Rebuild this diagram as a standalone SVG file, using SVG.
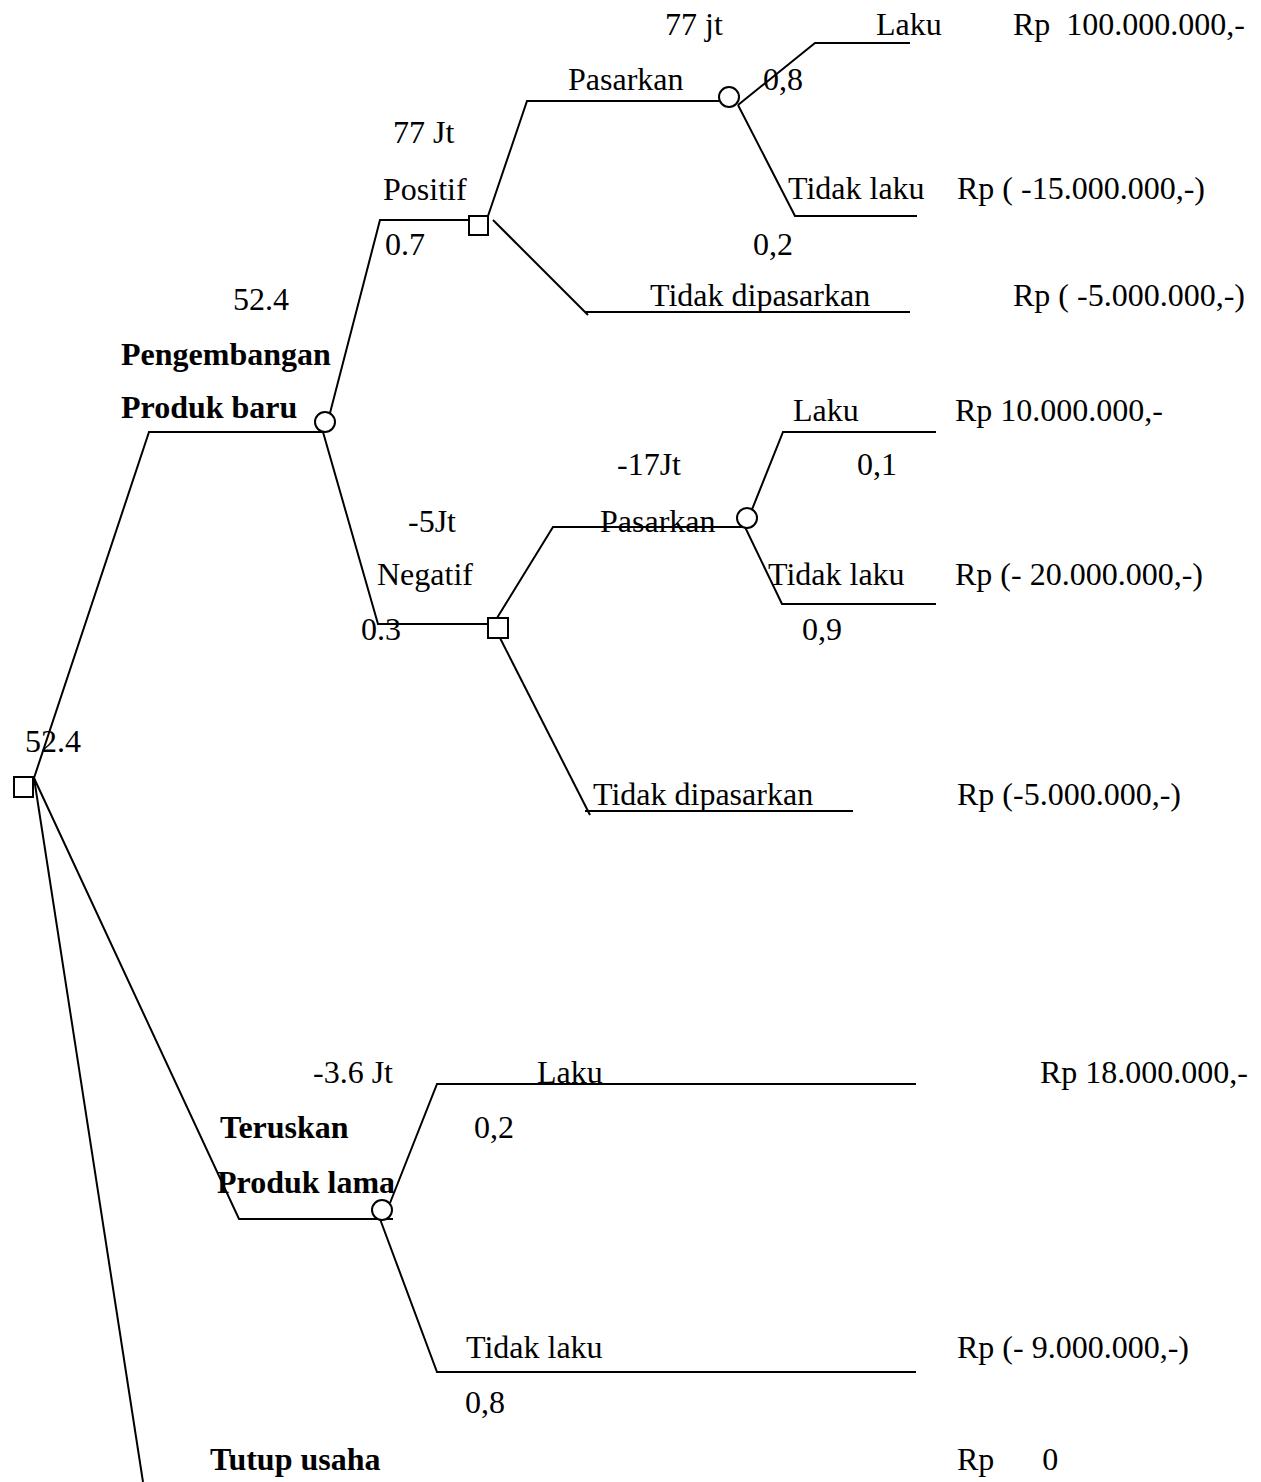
<svg xmlns="http://www.w3.org/2000/svg" width="1261" height="1482" viewBox="0 0 1261 1482">
<style>
text{font-family:"Liberation Serif","Times New Roman",serif;font-size:32px;fill:#000;white-space:pre}
.b{font-weight:bold}
.ln{stroke:#000;stroke-width:2;fill:none}
.nd{stroke:#000;stroke-width:2;fill:#fff}
</style>
<rect width="1261" height="1482" fill="#fff"/>
<g id="connectors" class="ln">
<polyline points="34,778 149,432 323,432"/>
<polyline points="330,413 380,220 469,220"/>
<polyline points="488,216 527,101 719,101"/>
<polyline points="738,105 815,43 910,43"/>
<polyline points="738,105 795,216 917,216"/>
<polyline points="493,220 588,315"/>
<line x1="585" y1="312" x2="910" y2="312"/>
<polyline points="323,432 378,624 488,624"/>
<polyline points="497,618 553,527 745,527"/>
<polyline points="745,527 783,432 936,432"/>
<polyline points="745,527 782,604 936,604"/>
<polyline points="500,638 590,815"/>
<line x1="585" y1="811" x2="853" y2="811"/>
<polyline points="34,778 239,1219 393,1219"/>
<polyline points="390,1203 437,1084 916,1084"/>
<polyline points="380,1219 437,1372 916,1372"/>
<line x1="34" y1="778" x2="143" y2="1482"/>
</g>
<g id="n-root"><rect class="nd" x="14" y="777" width="19" height="20"/><text x="25" y="752">52.4</text></g>
<g id="n-pengembangan"><circle class="nd" cx="325" cy="422" r="10"/><text x="233" y="310">52.4</text><text class="b" x="121" y="365">Pengembangan</text><text class="b" x="121" y="418">Produk baru</text></g>
<g id="n-positif"><rect class="nd" x="469" y="216" width="19" height="19"/><text x="393" y="143">77 Jt</text><text x="383" y="200">Positif</text><text x="385" y="255">0.7</text></g>
<g id="n-pasarkan1"><circle class="nd" cx="729" cy="97" r="10"/><text x="665" y="35">77 jt</text><text x="568" y="90">Pasarkan</text></g>
<g id="n-laku1"><text x="876" y="35">Laku</text><text x="763" y="90">0,8</text><text x="1013" y="35">Rp  100.000.000,-</text></g>
<g id="n-tidaklaku1"><text x="788" y="199">Tidak laku</text><text x="753" y="255">0,2</text><text x="957" y="199">Rp ( -15.000.000,-)</text></g>
<g id="n-tidakdipasarkan1"><text x="650" y="306">Tidak dipasarkan</text><text x="1013" y="306">Rp ( -5.000.000,-)</text></g>
<g id="n-negatif"><rect class="nd" x="488" y="618" width="20" height="20"/><text x="408" y="532">-5Jt</text><text x="377" y="585">Negatif</text><text x="361" y="640">0.3</text></g>
<g id="n-pasarkan2"><circle class="nd" cx="747" cy="518" r="10"/><text x="617" y="475">-17Jt</text><text x="600" y="532">Pasarkan</text></g>
<g id="n-laku2"><text x="793" y="421">Laku</text><text x="857" y="475">0,1</text><text x="955" y="421">Rp 10.000.000,-</text></g>
<g id="n-tidaklaku2"><text x="768" y="585">Tidak laku</text><text x="802" y="640">0,9</text><text x="955" y="585">Rp (- 20.000.000,-)</text></g>
<g id="n-tidakdipasarkan2"><text x="593" y="805">Tidak dipasarkan</text><text x="957" y="805">Rp (-5.000.000,-)</text></g>
<g id="n-teruskan"><circle class="nd" cx="382" cy="1210" r="10"/><text x="313" y="1083">-3.6 Jt</text><text class="b" x="220" y="1138">Teruskan</text><text class="b" x="217" y="1193">Produk lama</text></g>
<g id="n-laku3"><text x="537" y="1083">Laku</text><text x="474" y="1138">0,2</text><text x="1040" y="1083">Rp 18.000.000,-</text></g>
<g id="n-tidaklaku3"><text x="466" y="1358">Tidak laku</text><text x="465" y="1413">0,8</text><text x="957" y="1358">Rp (- 9.000.000,-)</text></g>
<g id="n-tutup"><text class="b" x="210" y="1470">Tutup usaha</text><text x="957" y="1470">Rp      0</text></g>
</svg>
